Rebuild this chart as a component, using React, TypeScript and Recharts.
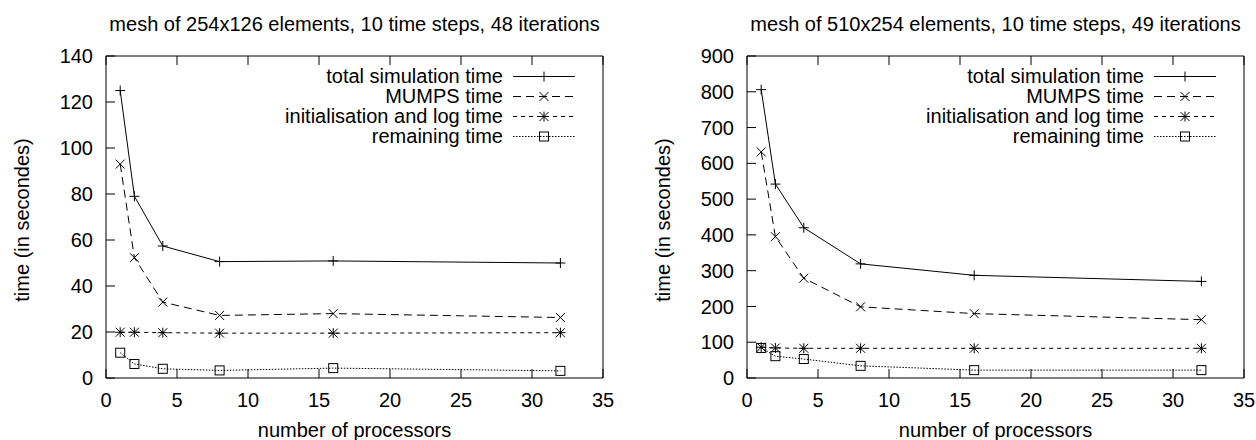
import { LineChart, Line, XAxis, YAxis, Legend, Label } from "recharts";

const processors = [1, 2, 4, 8, 16, 32];

// mesh of 254x126 elements
const smallTotal = [125, 79, 57.4, 50.6, 50.9, 50];
const smallMumps = [93, 52.3, 33, 27.2, 28, 26.3];
const smallInit = [19.9, 19.9, 19.7, 19.5, 19.5, 19.7];
const smallRemaining = [11, 6.1, 4, 3.3, 4.3, 3.1];

// mesh of 510x254 elements
const largeTotal = [806, 542, 420, 319, 287, 270];
const largeMumps = [632, 395, 279, 199, 180, 163];
const largeInit = [86, 84, 83, 83, 83, 83];
const largeRemaining = [84, 61, 53, 34, 22, 22];

const xTicks = [0, 5, 10, 15, 20, 25, 30, 35];
const smallYTicks = [0, 20, 40, 60, 80, 100, 120, 140];
const largeYTicks = [0, 100, 200, 300, 400, 500, 600, 700, 800, 900];

const FONT = '"Liberation Sans", Arial, Helvetica, sans-serif';
const FS = 20;
const INK = "#000";
const TICK = 9;
const X_GAP = 15;
const Y_GAP = 13;

type Kind = "plus" | "cross" | "star" | "box";

const SERIES: { key: string; name: string; dash?: string; marker: Kind }[] = [
  { key: "total", name: "total simulation time", marker: "plus" },
  { key: "mumps", name: "MUMPS time", dash: "8 5", marker: "cross" },
  { key: "init", name: "initialisation and log time", dash: "4 4", marker: "star" },
  { key: "remaining", name: "remaining time", dash: "1.5 1.5", marker: "box" },
];

function buildRows(total: number[], mumps: number[], init: number[], remaining: number[]) {
  return processors.map((p, i) => ({
    p,
    total: total[i],
    mumps: mumps[i],
    init: init[i],
    remaining: remaining[i],
  }));
}

function Marker({ cx, cy, kind }: { cx: number; cy: number; kind: Kind }) {
  const r = 5;
  const d = 4.5;
  const common = { stroke: INK, strokeWidth: 1, fill: "none" };
  if (kind === "plus")
    return <path d={`M${cx - r},${cy}H${cx + r}M${cx},${cy - r}V${cy + r}`} {...common} />;
  if (kind === "cross")
    return <path d={`M${cx - d},${cy - d}L${cx + d},${cy + d}M${cx - d},${cy + d}L${cx + d},${cy - d}`} {...common} />;
  if (kind === "star")
    return (
      <path
        d={`M${cx - r},${cy}H${cx + r}M${cx},${cy - r}V${cy + r}M${cx - d},${cy - d}L${cx + d},${cy + d}M${cx - d},${cy + d}L${cx + d},${cy - d}`}
        {...common}
      />
    );
  return <rect x={cx - 4.5} y={cy - 4.5} width={9} height={9} {...common} />;
}

function KeyBox() {
  return (
    <div style={{ fontFamily: FONT, fontSize: FS, lineHeight: "20px", color: INK, whiteSpace: "nowrap" }}>
      {SERIES.map((s) => (
        <div key={s.key} style={{ display: "flex", justifyContent: "flex-end", alignItems: "center", height: 20 }}>
          <span>{s.name}</span>
          <svg width={64} height={20} style={{ marginLeft: 9 }}>
            <line x1={1} x2={63} y1={10.5} y2={10.5} stroke={INK} strokeDasharray={s.dash} />
            <Marker cx={32} cy={10.5} kind={s.marker} />
          </svg>
        </div>
      ))}
    </div>
  );
}

const bottomTick = (p: any) => (
  <g>
    <line x1={p.x} x2={p.x} y1={p.y - X_GAP} y2={p.y - X_GAP - TICK} stroke={INK} />
    <text x={p.x} y={p.y} dy="0.71em" textAnchor="middle" fontFamily={FONT} fontSize={FS} fill={INK}>
      {p.payload.value}
    </text>
  </g>
);
const topTick = (p: any) => <line x1={p.x} x2={p.x} y1={p.y} y2={p.y + TICK} stroke={INK} />;
const leftTick = (p: any) => (
  <g>
    <line x1={p.x + Y_GAP} x2={p.x + Y_GAP + TICK} y1={p.y} y2={p.y} stroke={INK} />
    <text x={p.x} y={p.y} dy="0.355em" textAnchor="end" fontFamily={FONT} fontSize={FS} fill={INK}>
      {p.payload.value}
    </text>
  </g>
);
const rightTick = (p: any) => <line x1={p.x - TICK} x2={p.x} y1={p.y} y2={p.y} stroke={INK} />;

interface PanelProps {
  title: string;
  rows: ReturnType<typeof buildRows>;
  yTicks: number[];
  yAxisWidth: number;
  marginRight: number;
  keyRight: number;
}

function Panel({ title, rows, yTicks, yAxisWidth, marginRight, keyRight }: PanelProps) {
  const yMax = yTicks[yTicks.length - 1];
  return (
    <LineChart width={628} height={440} data={rows} margin={{ top: 55, right: marginRight, bottom: 0, left: 0 }}>
      <XAxis
        xAxisId="b"
        dataKey="p"
        type="number"
        domain={[0, 35]}
        ticks={xTicks}
        interval={0}
        height={62}
        tickSize={0}
        tickMargin={X_GAP}
        tickLine={false}
        tick={bottomTick}
        axisLine={{ stroke: INK }}
      >
        <Label
          content={(lp: any) => (
            <text
              x={lp.viewBox.x + lp.viewBox.width / 2}
              y={lp.viewBox.y + 59}
              textAnchor="middle"
              fontFamily={FONT}
              fontSize={FS}
              fill={INK}
            >
              number of processors
            </text>
          )}
        />
      </XAxis>
      <XAxis
        xAxisId="t"
        orientation="top"
        dataKey="p"
        type="number"
        domain={[0, 35]}
        ticks={xTicks}
        interval={0}
        height={1}
        tickSize={0}
        tickMargin={0}
        tickLine={false}
        tick={topTick}
        axisLine={{ stroke: INK }}
      >
        <Label
          content={(lp: any) => (
            <text
              x={lp.viewBox.x + lp.viewBox.width / 2}
              y={lp.viewBox.y - 24}
              textAnchor="middle"
              fontFamily={FONT}
              fontSize={FS}
              fill={INK}
            >
              {title}
            </text>
          )}
        />
      </XAxis>
      <YAxis
        yAxisId="l"
        type="number"
        domain={[0, yMax]}
        ticks={yTicks}
        interval={0}
        width={yAxisWidth}
        tickSize={0}
        tickMargin={Y_GAP}
        tickLine={false}
        tick={leftTick}
        axisLine={{ stroke: INK }}
      >
        <Label
          content={(lp: any) => {
            const cx = lp.viewBox.x + lp.viewBox.width - 84;
            const cy = lp.viewBox.y + lp.viewBox.height / 2 + 3;
            return (
              <text
                x={cx}
                y={cy}
                transform={`rotate(-90 ${cx} ${cy})`}
                dy="0.355em"
                textAnchor="middle"
                fontFamily={FONT}
                fontSize={FS}
                fill={INK}
              >
                time (in secondes)
              </text>
            );
          }}
        />
      </YAxis>
      <YAxis
        yAxisId="r"
        orientation="right"
        type="number"
        domain={[0, yMax]}
        ticks={yTicks}
        interval={0}
        width={1}
        tickSize={0}
        tickMargin={0}
        tickLine={false}
        tick={rightTick}
        axisLine={{ stroke: INK }}
      />
      <Legend
        layout="horizontal"
        align="center"
        verticalAlign="middle"
        wrapperStyle={{ top: 66, right: keyRight, width: "auto" }}
        content={() => <KeyBox />}
      />
      {SERIES.map((s) => (
        <Line
          key={s.key}
          xAxisId="b"
          yAxisId="l"
          type="linear"
          dataKey={s.key}
          name={s.name}
          stroke={INK}
          strokeWidth={1}
          strokeDasharray={s.dash}
          isAnimationActive={false}
          activeDot={false}
          dot={(dp: any) => (
            <g key={`${s.key}-${dp.index}`}>
              <Marker cx={dp.cx} cy={dp.cy} kind={s.marker} />
            </g>
          )}
        />
      ))}
    </LineChart>
  );
}

export default function App() {
  return (
    <div style={{ position: "absolute", left: 0, top: 0, width: 1256, height: 440, display: "flex", background: "#fff" }}>
      <Panel
        title="mesh of 254x126 elements, 10 time steps, 48 iterations"
        rows={buildRows(smallTotal, smallMumps, smallInit, smallRemaining)}
        yTicks={smallYTicks}
        yAxisWidth={106}
        marginRight={24}
        keyRight={52}
      />
      <Panel
        title="mesh of 510x254 elements, 10 time steps, 49 iterations"
        rows={buildRows(largeTotal, largeMumps, largeInit, largeRemaining)}
        yTicks={largeYTicks}
        yAxisWidth={119}
        marginRight={11}
        keyRight={39}
      />
    </div>
  );
}
